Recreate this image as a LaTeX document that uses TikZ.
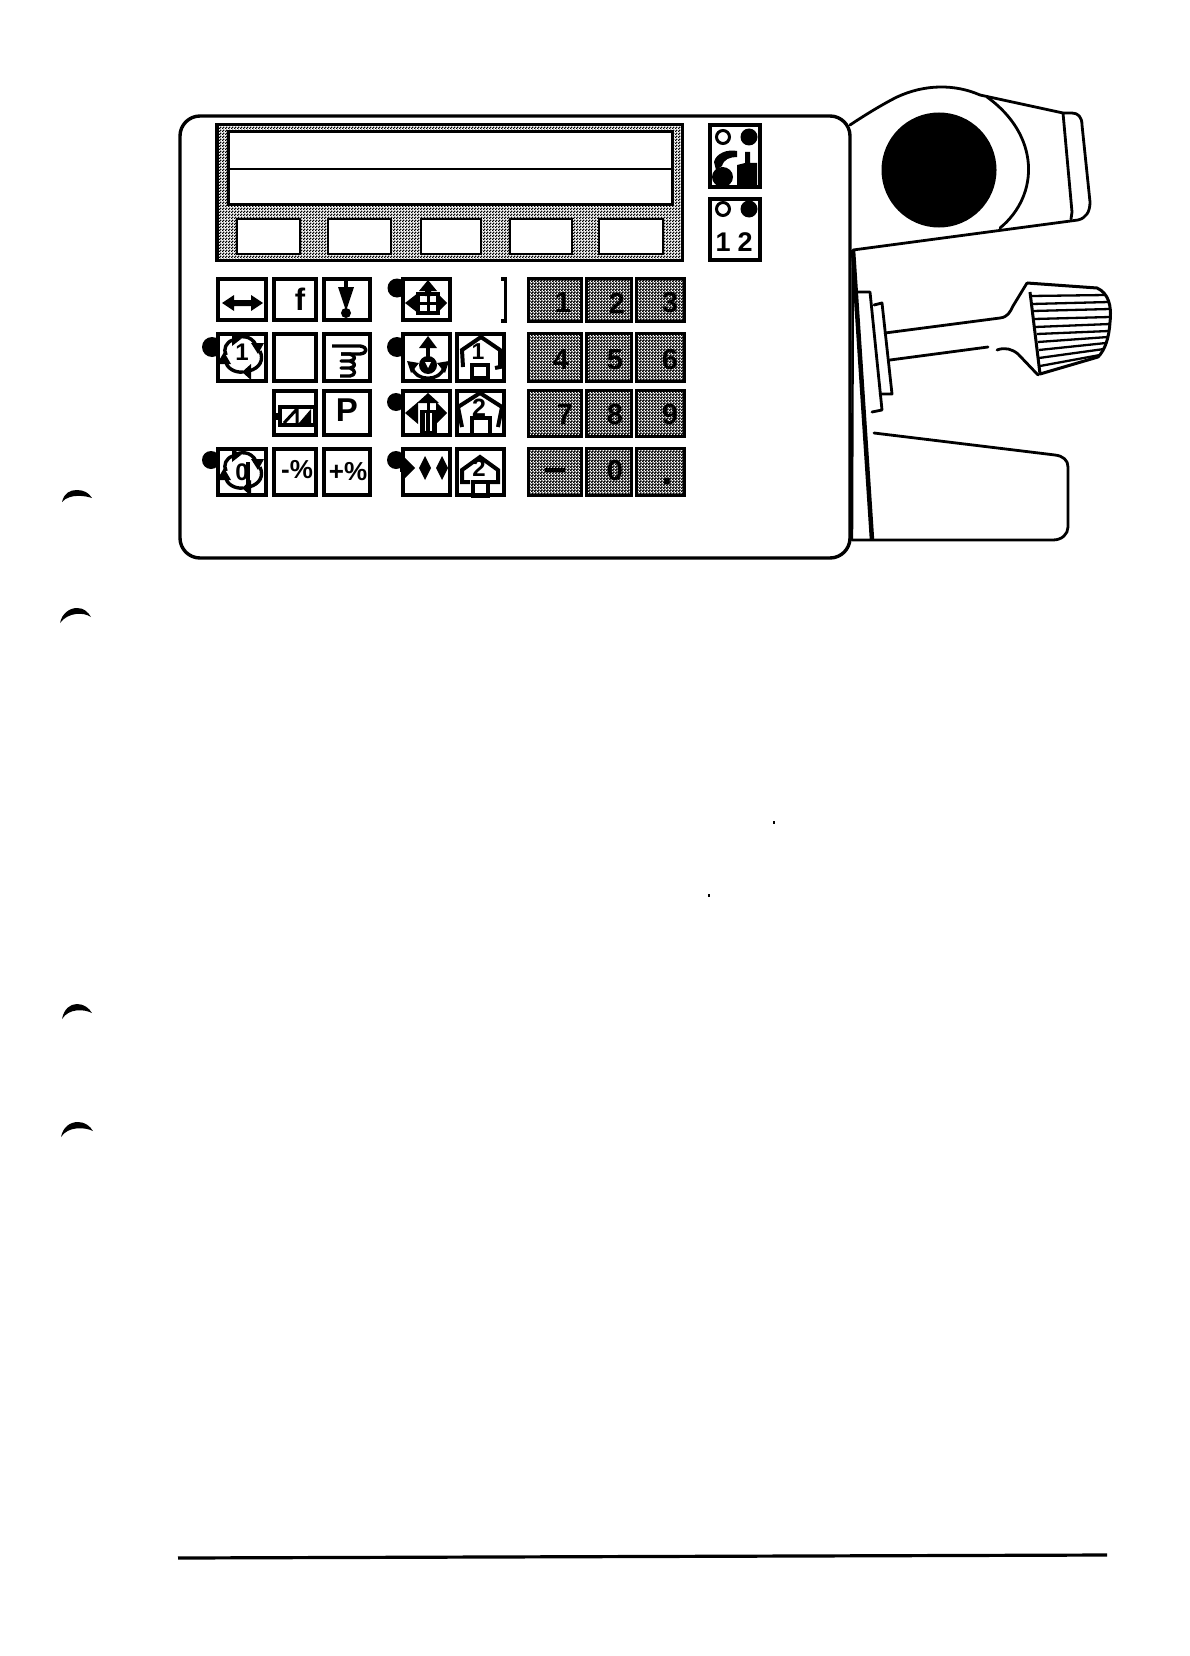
\documentclass[tikz,border=0pt]{standalone}
\usepackage{fontspec}
\setmainfont{Liberation Sans}
\usetikzlibrary{patterns}
\pgfdeclarepatternformonly{dith}{\pgfqpoint{0pt}{0pt}}{\pgfqpoint{3pt}{3pt}}{\pgfqpoint{3pt}{3pt}}{%
  \pgfpathrectangle{\pgfqpoint{0pt}{0pt}}{\pgfqpoint{1.75pt}{1.75pt}}%
  \pgfpathrectangle{\pgfqpoint{1.5pt}{1.5pt}}{\pgfqpoint{1.75pt}{1.75pt}}%
  \pgfusepath{fill}}
\pgfdeclarepatternformonly{dithdark}{\pgfqpoint{0pt}{0pt}}{\pgfqpoint{3pt}{3pt}}{\pgfqpoint{3pt}{3pt}}{%
  \pgfpathrectangle{\pgfqpoint{0pt}{0pt}}{\pgfqpoint{2pt}{2pt}}%
  \pgfpathrectangle{\pgfqpoint{1.5pt}{1.5pt}}{\pgfqpoint{2pt}{2pt}}%
  \pgfusepath{fill}}
\newcommand{\fsz}[1]{\fontsize{#1}{#1}\selectfont\bfseries}
\newcommand{\ins}{0}
% name, x0, y0, x1, y1, style, text
\newcommand{\boxat}[7]{\node[#6,minimum width={(#4-#2-2*\ins)*1pt},minimum height={(#5-#3-2*\ins)*1pt}] (#1) at ({(#2+#4)/2},{(#3+#5)/2}) {#7};}
\newcommand{\cycleicon}[2]{\begin{scope}[shift={(#1,#2)}]
  \draw[icon] (-10,-14) .. controls (-3,-19) and (8,-19) .. (13,-9);
  \fill (21,-11) -- (8,-11) -- (15,0) -- cycle;
  \draw[icon] (17,-3) .. controls (21,6) and (17,14) .. (6,17);
  \fill (-1,18) -- (8,10) -- (8,26) -- cycle;
  \draw[icon] (0,18) .. controls (-8,19) and (-17,14) .. (-17,7);
  \fill (-19,-2) -- (-26,10) -- (-12,10) -- cycle;
  \draw[icon] (-17,1) .. controls (-20,-5) and (-17,-12) .. (-10,-14);
  \fill (-2,-15) -- (-11,-22) -- (-11,-8) -- cycle;
\end{scope}}
\tikzset{
  x=1pt,y=-1pt,
  icon/.style={line width=3.4pt,line join=round},
  thinp/.style={line width=2.8pt,line join=round,line cap=round},
  panel/.style={draw,line width=3.4pt,rounded corners=20pt,inner sep=0pt,outer sep=0pt},
  keyb/.style={draw,fill=white,line width=3.6pt,inner sep=0pt,outer sep=0pt},
  numkey/.style={draw,line width=3pt,pattern=dithdark,inner sep=0pt,outer sep=0pt},
  disp/.style={draw,line width=3.5pt,pattern=dith,inner sep=0pt,outer sep=0pt},
  win/.style={draw,fill=white,line width=3pt,inner sep=0pt,outer sep=0pt},
  soft/.style={draw,fill=white,line width=2.4pt,inner sep=0pt,outer sep=0pt},
  blob/.style={circle,fill=black,inner sep=0pt,outer sep=0pt,minimum size=#1},
  lamp/.style={circle,draw,line width=3pt,fill=white,inner sep=0pt,minimum size=13pt},
  lampon/.style={circle,fill=black,inner sep=0pt,minimum size=17pt},
  label/.style={inner sep=0pt,outer sep=0pt,font=\fsz{#1}},
  digit/.style={inner sep=0pt,outer sep=0pt,text=black,font=\fsz{29}},
}
\begin{document}
\begin{tikzpicture}
\useasboundingbox (0,0) rectangle (1190,1656);
\fill[white] (0,0) rectangle (1190,1656);

% punch marks
\fill (62,502) .. controls (64,493) and (70,490) .. (77,490) .. controls (84,490) and (89,493) .. (92,498) .. controls (86,496) and (70,493) .. (62,502) -- cycle;
\fill (60,623) .. controls (62,613) and (70,608) .. (77,608) .. controls (84,608) and (88,612) .. (91,617) .. controls (84,612) and (68,612) .. (60,623) -- cycle;
\fill (62,1019) .. controls (64,1009) and (70,1004) .. (77,1004) .. controls (84,1004) and (89,1008) .. (92,1013) .. controls (84,1009) and (69,1008) .. (62,1019) -- cycle;
\fill (61,1137) .. controls (63,1127) and (70,1122) .. (78,1122) .. controls (85,1122) and (90,1126) .. (93,1131) .. controls (85,1127) and (68,1126) .. (61,1137) -- cycle;

% specks and rule
\fill (773,821) rectangle (775,824);
\fill (708,894) rectangle (710,897);
\coordinate (ruleL) at (178,1558);
\coordinate (ruleR) at (1107,1555);
\draw[line width=3.2pt] (ruleL) -- (ruleR);

% upper handle
\draw[thinp] (850,125) .. controls (868,113) and (885,103) .. (897,97) .. controls (925,84) and (955,84) .. (980,95) -- (1063,113) -- (1072,113) .. controls (1078,113) and (1082,117) .. (1082,125) -- (1090,202) .. controls (1090,212) and (1086,218) .. (1078,220) -- (853,250);
\draw[thinp] (1063,113) -- (1072,212) -- (1071,219);
\draw[thinp] (987,97) .. controls (1040,135) and (1040,195) .. (1000,228);
\node[circle,fill=black,inner sep=0pt,minimum size=115pt] (wheel) at (939,170) {};

% flanges
\draw[thinp] (858,292) -- (870,292) -- (882,410) -- (872,412);
\draw[thinp] (874,305) -- (882,303) -- (892,394) -- (880,394);

% lever shaft and knob
\draw[thinp] (885,333) -- (1000,318) .. controls (1008,317) and (1010,312) .. (1013,306) -- (1027,283);
\draw[thinp] (890,360) -- (988,347);
\draw[thinp] (997,350) .. controls (1005,347) and (1012,349) .. (1018,354) -- (1038,375);
\draw[line width=3pt,line join=round] (1027,283) -- (1097,288) .. controls (1108,293) and (1112,305) .. (1110,322) .. controls (1109,338) and (1105,350) .. (1098,357) -- (1040,374) -- (1030,292);
\foreach \xa/\ya/\xb/\yb in {1031/296/1106/295, 1032/304/1109/302, 1033/311/1110/309, 1034/319/1110/317, 1035/327/1110/324, 1037/334/1109/331, 1038/342/1108/337, 1039/350/1106/343, 1039/358/1104/349, 1040/366/1100/355}
  \draw[line width=2.3pt] (\xa,\ya) -- (\xb,\yb);

% lower handle
\draw[thinp] (874,433) -- (1055,455) .. controls (1063,456) and (1068,460) .. (1068,467) -- (1068,527) .. controls (1068,534) and (1062,540) .. (1053,540) -- (852,540);

% body edges
\draw[line width=4.5pt] (853,250) -- (872,540);
\draw[line width=2.4pt] (853,250) -- (852,540);

% panel
\renewcommand{\ins}{0}
\boxat{panel}{180}{116}{850}{558}{panel,fill=white}{}

% blobs beside keys
\node[blob=20pt] (b1) at (212,347) {};
\node[blob=18pt] (b2) at (211,460) {};
\node[blob=19pt] (b3) at (397,288) {};
\node[blob=20pt] (b4) at (397,347) {};
\node[blob=18pt] (b5) at (396,402) {};
\node[blob=18pt] (b6) at (396,460) {};

% display
\renewcommand{\ins}{1.75}
\boxat{display}{215}{123}{684}{262}{disp}{}
\renewcommand{\ins}{-1.5}
\boxat{window}{230}{133}{671}{203}{win}{}
\coordinate (midL) at (230,169);
\coordinate (midR) at (671,169);
\draw[line width=2.6pt] (midL) -- (midR);
\renewcommand{\ins}{-1.2}
\boxat{s1}{238}{220}{299}{253}{soft}{}
\boxat{s2}{329}{220}{390}{253}{soft}{}
\boxat{s3}{422}{220}{480}{253}{soft}{}
\boxat{s4}{511}{220}{571}{253}{soft}{}
\boxat{s5}{600}{220}{662}{253}{soft}{}

% indicators
\renewcommand{\ins}{1.8}
\boxat{ind1}{708}{123}{762}{189}{keyb}{}
\boxat{ind2}{708}{197}{762}{262}{keyb}{}
\node[lamp] (l1) at (723,137) {};
\node[lampon] (l2) at (749,137) {};
\node[lamp] (l3) at (723,209) {};
\node[lampon] (l4) at (749,209) {};
\node[label=27] (one) at (723,242) {1};
\node[label=27] (two) at (745,242) {2};
\fill (714,162) .. controls (716,153) and (728,149) .. (737,151) -- (737,157) .. controls (730,157) and (724,159) .. (722,166) -- (716,170) -- cycle;
\fill (722.5,177) ellipse (10.5 and 10);
\fill (745,152) -- (750,152) -- (750,163) -- (757,163) -- (757,187) -- (737,187) -- (737,165) -- (745,163) -- cycle;

% function keys row 1
\boxat{k11}{216}{277}{268}{322}{keyb}{}
\boxat{k12}{272}{277}{318}{322}{keyb}{}
\boxat{k13}{322}{277}{372}{322}{keyb}{}
\boxat{k14}{401}{277}{452}{322}{keyb}{}
\coordinate (brT) at (501,279);
\coordinate (brTR) at (505.5,279);
\coordinate (brBR) at (505.5,321);
\coordinate (brB) at (501,321);
\draw[line width=3.4pt] (brT) -- (brTR) -- (brBR) -- (brB);
% row 2
\boxat{k21}{216}{332}{268}{383}{keyb}{}
\boxat{k22}{272}{332}{318}{383}{keyb}{}
\boxat{k23}{322}{332}{372}{383}{keyb}{}
\boxat{k24}{401}{332}{452}{383}{keyb}{}
\boxat{k25}{455}{332}{506}{383}{keyb}{}
% row 3
\boxat{k32}{272}{389}{318}{437}{keyb}{}
\boxat{k33}{322}{389}{372}{437}{keyb}{}
\boxat{k34}{401}{389}{452}{437}{keyb}{}
\boxat{k35}{455}{389}{506}{437}{keyb}{}
% row 4
\boxat{k41}{216}{447}{268}{497}{keyb}{}
\boxat{k42}{272}{447}{318}{497}{keyb}{}
\boxat{k43}{322}{447}{372}{497}{keyb}{}
\boxat{k44}{401}{447}{452}{497}{keyb}{}
\boxat{k45}{455}{447}{506}{497}{keyb}{}

% key legends
\fill (222,303) -- (234,295) -- (234,300) -- (251,300) -- (251,295) -- (263,303) -- (251,311) -- (251,306) -- (234,306) -- (234,311) -- cycle;
\node[label=31] (tf) at (300,299) {f};
\draw[line width=3.4pt] (346,278) -- (346,290);
\fill (338,287) -- (354,287) -- (346,311) -- cycle;
\fill (346,313) circle (5);
\cycleicon{243}{354}
\node[label=24] (t1) at (242,352) {1};
\draw[icon] (332,346) -- (360,346) .. controls (368,347) and (368,353) .. (360,354) -- (341,354);
\draw[icon] (341,354) -- (350,354) .. controls (356,356) and (356,360) .. (350,361) -- (341,361) -- (350,361) .. controls (356,363) and (356,367) .. (350,368) -- (341,368) -- (350,368) .. controls (356,370) and (356,375) .. (350,376) -- (340,376);
% step icon
\draw[line width=3.6pt] (280,407) rectangle (315,425);
\fill (272,413) rectangle (280,420);
\fill (315,414) rectangle (318,419);
\draw[line width=3pt] (284,423) -- (297,409) -- (297,423);
\fill (299,423) -- (311,423) -- (311,409) -- cycle;
\node[label=33] (tp) at (347,410) {P};
\cycleicon{243}{470}
\node[label=24] (t0) at (242,472) {0};
\draw[line width=3.2pt] (248,462) -- (248,492);
\node[label=26] (tm) at (297,470) {-\%};
\node[label=26] (tq) at (348,472) {+\%};
% four-way icon
\fill (428,280) -- (437,291) -- (431,291) -- (431,296) -- (425,296) -- (425,291) -- (419,291) -- cycle;
\fill (405,303) -- (418,293) -- (418,313) -- cycle;
\fill (447,303) -- (437,293) -- (437,313) -- cycle;
\draw[line width=3.8pt] (418,294) rectangle (438,313);
\draw[line width=3pt] (418,303) -- (438,303) (428,293) -- (428,314);
% rotate icon
\draw[line width=3.4pt] (428,342) -- (428,360);
\fill (428,336) -- (437,348) -- (419,348) -- cycle;
\fill (428,365) circle (9);
\fill[white] (425,362) -- (431,362) -- (428,368) -- cycle;
\draw[icon] (412,367) .. controls (415,382) and (441,382) .. (444,367);
\fill (407,361) -- (419,363) -- (411,373) -- cycle;
\fill (449,361) -- (437,363) -- (445,373) -- cycle;
% house 1
\draw[line width=4pt,line join=miter] (463,367) -- (462,350) -- (481,337) -- (500,350) -- (500,367) -- (495,368);
\draw[line width=3.4pt] (472,365) rectangle (488,378);
\node[label=23] (th1) at (478,352) {1};
% three-way icon
\fill (428,393) -- (439,403) -- (417,403) -- cycle;
\draw[line width=3pt] (428,400) -- (428,412);
\fill (405,413) -- (418,402) -- (418,424) -- cycle;
\fill (447,413) -- (436,402) -- (436,424) -- cycle;
\fill (420,410) rectangle (437,437);
\draw[white,line width=1.3pt] (425.5,413) -- (425.5,431) (431,413) -- (431,431);
% house 2
\draw[line width=4pt,line join=miter] (462,427) -- (458,407) -- (480,393) -- (502,407) -- (498,427);
\draw[line width=3.4pt] (472,418) rectangle (490,435);
\node[label=25] (th2) at (479,408) {2};
% diamonds
\fill (400,464) rectangle (404,472);
\fill (403,456) -- (415,468) -- (403,480) -- cycle;
\fill (425,456) -- (431,468) -- (425,480) -- (419,468) -- cycle;
\fill (442,456) -- (448,468) -- (442,480) -- (436,468) -- cycle;
% house 3
\draw[line width=4pt,line join=miter] (470,482) -- (462,482) -- (462,470) -- (480,457) -- (498,470) -- (498,482) -- (490,482);
\draw[line width=3.4pt] (473,482) rectangle (488,496);
\node[label=24] (th3) at (479,468) {2};

% numeric keys
\renewcommand{\ins}{1.5}
\boxat{n1}{527}{277}{583}{323}{numkey}{}
\boxat{n2}{585}{277}{633}{323}{numkey}{}
\boxat{n3}{635}{277}{686}{323}{numkey}{}
\boxat{n4}{527}{332}{583}{383}{numkey}{}
\boxat{n5}{585}{332}{633}{383}{numkey}{}
\boxat{n6}{635}{332}{686}{383}{numkey}{}
\boxat{n7}{527}{389}{583}{438}{numkey}{}
\boxat{n8}{585}{389}{633}{438}{numkey}{}
\boxat{n9}{635}{389}{686}{438}{numkey}{}
\boxat{nm}{527}{447}{583}{497}{numkey}{}
\boxat{n0}{585}{447}{633}{497}{numkey}{}
\boxat{np}{635}{447}{686}{497}{numkey}{}
\node[digit] (d1) at (563,303) {1};
\node[digit] (d2) at (617,303) {2};
\node[digit] (d3) at (670,303) {3};
\node[digit] (d4) at (561,360) {4};
\node[digit] (d5) at (615,360) {5};
\node[digit] (d6) at (670,360) {6};
\node[digit] (d7) at (565,415) {7};
\node[digit] (d8) at (615,415) {8};
\node[digit] (d9) at (670,415) {9};
\node[digit] (dm) at (555,470) {\rule{20pt}{4pt}};
\node[digit] (d0) at (615,471) {0};
\node[digit,font=\fsz{42}] (dp) at (667,481) {.};
\end{tikzpicture}
\end{document}
